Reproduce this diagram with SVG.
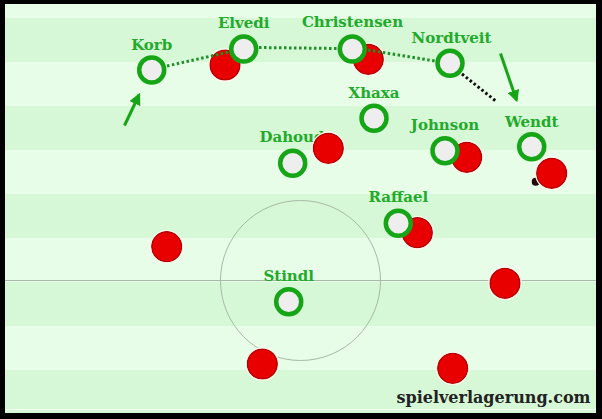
<svg xmlns="http://www.w3.org/2000/svg" width="602" height="419" viewBox="0 0 602 419">
<defs>
<style>
.lbl{font-family:"DejaVu Serif","Liberation Serif",serif;font-weight:bold;font-size:15px;fill:#22aa2a;text-anchor:middle}
.own{fill:#eeeeee;stroke:#16a516;stroke-width:4.5}
.opp{fill:#e80000;stroke:#b00000;stroke-width:1.5}
.halo{fill:none;stroke:#fff4ee;stroke-width:1.2}
.dot{fill:none;stroke:#1f8f2a;stroke-width:3;stroke-dasharray:2.5,2.5}
.dotb{fill:none;stroke:#111;stroke-width:3;stroke-dasharray:2.5,2.5}
.arr{fill:none;stroke:#16a516;stroke-width:3;marker-end:url(#ah)}
.dark{fill:#d6f8d6}.light{fill:#e8fde8}
</style>
<marker id="ah" viewBox="0 0 10 10" refX="8" refY="5" markerWidth="4" markerHeight="4" orient="auto" markerUnits="strokeWidth">
<path d="M0,0 L10,5 L0,10 z" fill="#16a516"/>
</marker>
</defs>
<rect x="0" y="0" width="602" height="419" fill="#000"/>
<g id="pitch">
<rect x="5" y="4" width="591" height="409" class="dark"/>
<rect x="5" y="4" width="591" height="14" class="light"/>
<rect x="5" y="62" width="591" height="44" class="light"/>
<rect x="5" y="150" width="591" height="44" class="light"/>
<rect x="5" y="238" width="591" height="44" class="light"/>
<rect x="5" y="326" width="591" height="44" class="light"/>
<line x1="5" y1="280.5" x2="596" y2="280.5" stroke="#a8b8a8" stroke-width="1"/>
<circle cx="300.5" cy="280.5" r="80" fill="none" stroke="#a8b8a8" stroke-width="1"/>
<line x1="5" y1="409.5" x2="596" y2="409.5" stroke="#f4fff4" stroke-width="1"/>
</g>
<g id="node-dahoud">
<text class="lbl" x="292" y="142">Dahoud</text>
<circle class="own" cx="292.7" cy="163.3" r="12.5"/>
</g>
<g id="opponents">
<g id="opp-1"><circle class="opp" cx="225" cy="65" r="15"/><circle class="halo" cx="225" cy="65" r="16.2"/></g>
<g id="opp-2"><circle class="opp" cx="368.3" cy="59.3" r="15"/><circle class="halo" cx="368.3" cy="59.3" r="16.2"/></g>
<g id="opp-3"><circle class="opp" cx="328.3" cy="148.3" r="15"/><circle class="halo" cx="328.3" cy="148.3" r="16.2"/></g>
<g id="opp-4"><circle class="opp" cx="466.7" cy="157.3" r="15"/><circle class="halo" cx="466.7" cy="157.3" r="16.2"/></g>
<g id="opp-5"><circle cx="535.7" cy="181.7" r="4" fill="#220808"/><circle class="opp" cx="551.7" cy="173.3" r="15"/><circle class="halo" cx="551.7" cy="173.3" r="16.2"/></g>
<g id="opp-6"><circle class="opp" cx="417.3" cy="232.7" r="15"/><circle class="halo" cx="417.3" cy="232.7" r="16.2"/></g>
<g id="opp-7"><circle class="opp" cx="166.7" cy="246.7" r="15"/><circle class="halo" cx="166.7" cy="246.7" r="16.2"/></g>
<g id="opp-8"><circle class="opp" cx="262.3" cy="364" r="15"/><circle class="halo" cx="262.3" cy="364" r="16.2"/></g>
<g id="opp-9"><circle class="opp" cx="505" cy="283.3" r="15"/><circle class="halo" cx="505" cy="283.3" r="16.2"/></g>
<g id="opp-10"><circle class="opp" cx="452.7" cy="368.3" r="15"/><circle class="halo" cx="452.7" cy="368.3" r="16.2"/></g>
</g>
<g id="connectors">
<line class="dot" x1="167" y1="66" x2="229" y2="52"/>
<line class="dot" x1="259" y1="47.5" x2="337" y2="48.5"/>
<line class="dot" x1="368" y1="50" x2="435" y2="61"/>
<line class="dotb" x1="462" y1="74" x2="497" y2="102"/>
<line class="arr" x1="124.5" y1="125.5" x2="139" y2="95"/>
<line class="arr" x1="500.5" y1="53.5" x2="516.5" y2="100"/>
</g>
<g id="node-korb"><text class="lbl" x="151.7" y="50">Korb</text><circle class="own" cx="151.7" cy="70" r="12.5"/></g>
<g id="node-elvedi"><text class="lbl" x="243.7" y="28">Elvedi</text><circle class="own" cx="243.7" cy="49" r="12.5"/></g>
<g id="node-christensen"><text class="lbl" x="352.5" y="27">Christensen</text><circle class="own" cx="352.3" cy="49" r="12.5"/></g>
<g id="node-nordtveit"><text class="lbl" x="451.5" y="42.5">Nordtveit</text><circle class="own" cx="450" cy="63.3" r="12.5"/></g>
<g id="node-xhaxa"><text class="lbl" x="374" y="98">Xhaxa</text><circle class="own" cx="374" cy="118.3" r="12.5"/></g>
<g id="node-johnson"><text class="lbl" x="445" y="130">Johnson</text><circle class="own" cx="445" cy="150.7" r="12.5"/></g>
<g id="node-wendt"><text class="lbl" x="531.7" y="126.5">Wendt</text><circle class="own" cx="531.7" cy="146.7" r="12.5"/></g>
<g id="node-raffael"><text class="lbl" x="398.3" y="202">Raffael</text><circle class="own" cx="398.3" cy="223.3" r="12.5"/></g>
<g id="node-stindl"><text class="lbl" x="288.7" y="281">Stindl</text><circle class="own" cx="288.7" cy="301.7" r="12.5"/></g>
<text x="590.5" y="402.5" text-anchor="end" style="font-family:'DejaVu Serif','Liberation Serif',serif;font-weight:bold;font-size:16px;fill:#222">spielverlagerung.com</text>
</svg>
